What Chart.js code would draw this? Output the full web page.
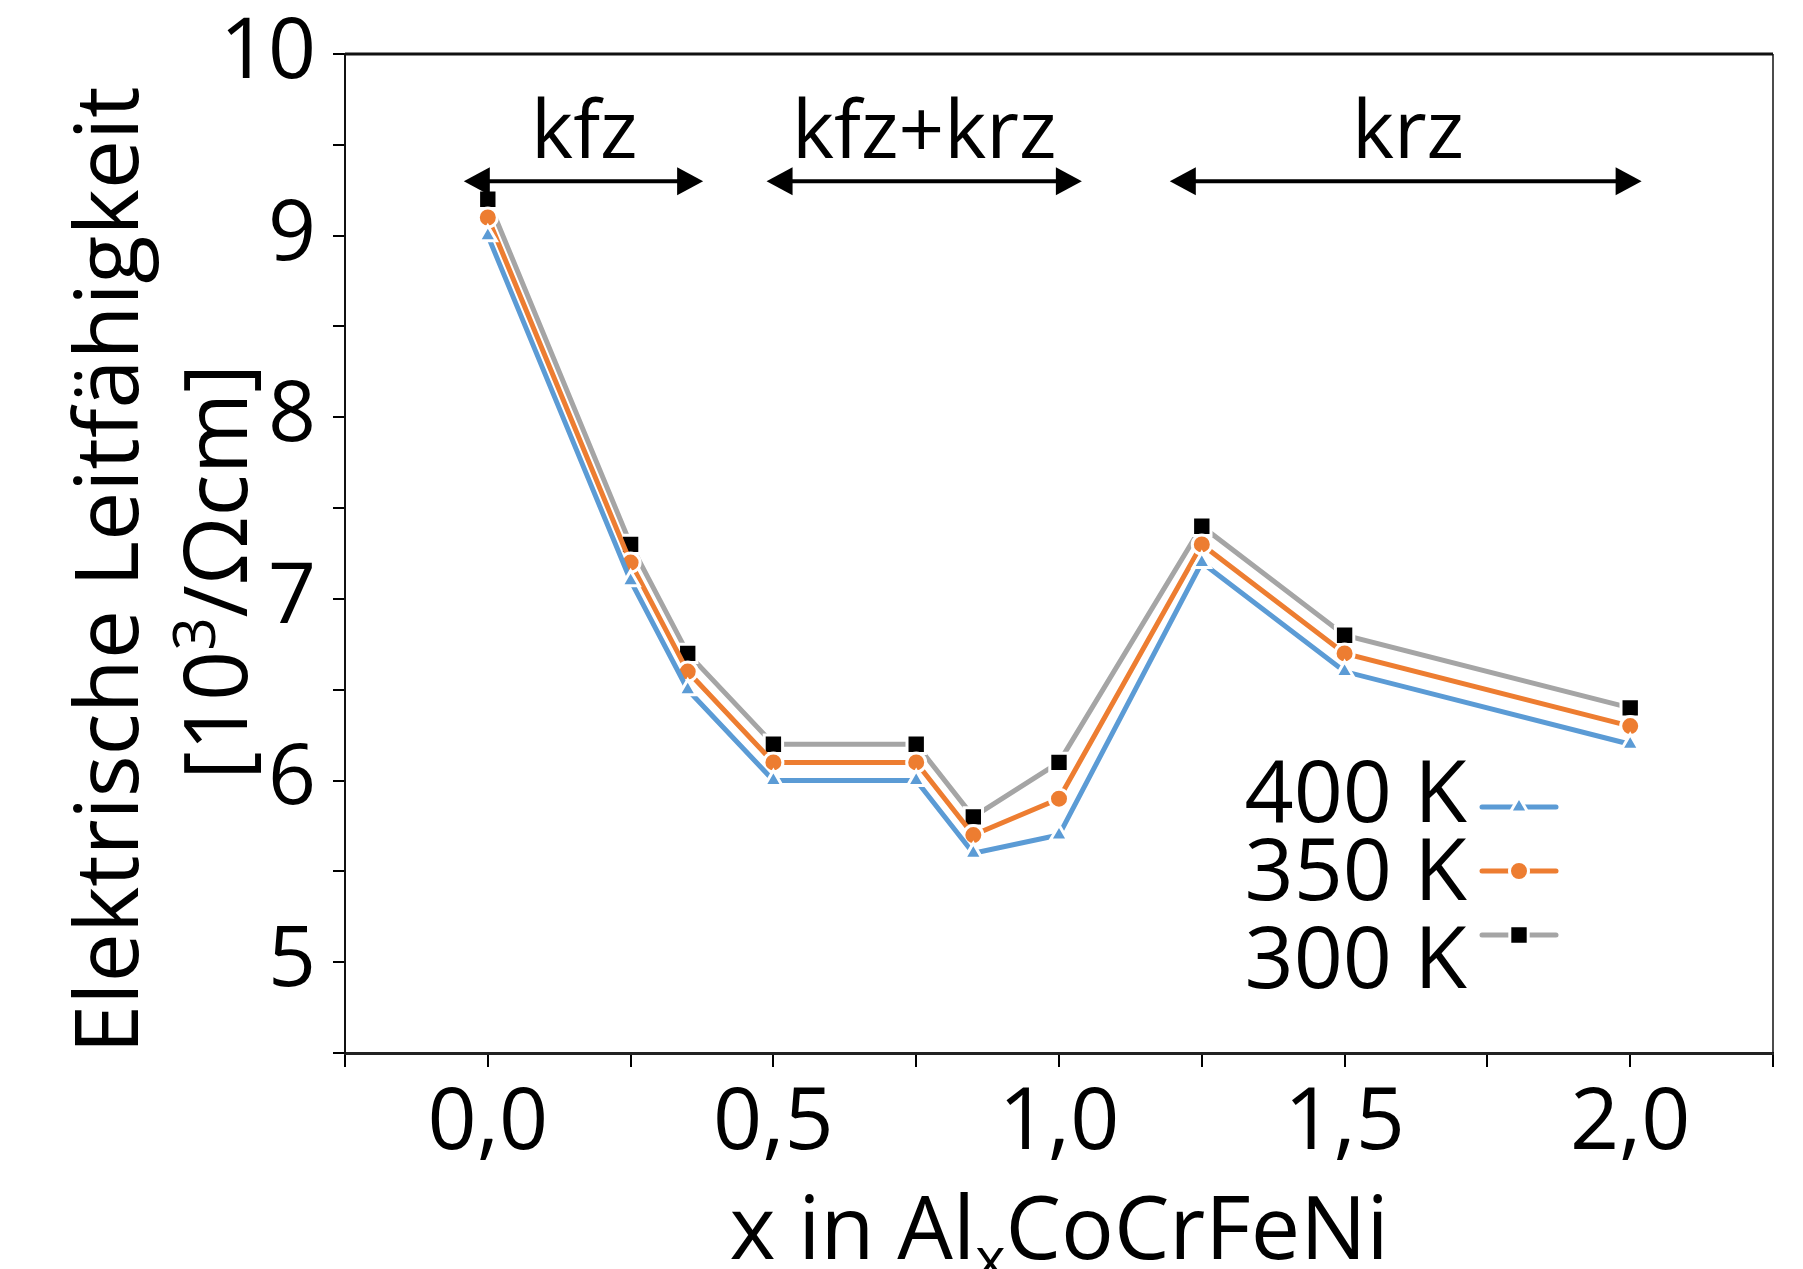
<!DOCTYPE html>
<html>
<head>
<meta charset="utf-8">
<script src="https://cdn.jsdelivr.net/npm/chart.js@4"></script>
<style>
html, body { margin: 0; padding: 0; background: #fff; }
</style>
</head>
<body>
<canvas id="grafico" width="1803" height="1269"></canvas>
<script>
// Werte
const xWerte = [0, 0.25, 0.35, 0.5, 0.75, 0.85, 1.0, 1.25, 1.5, 2.0];
const werte400 = [9.0, 7.1, 6.5, 6.0, 6.0, 5.6, 5.7, 7.2, 6.6, 6.2];
const werte350 = [9.1, 7.2, 6.6, 6.1, 6.1, 5.7, 5.9, 7.3, 6.7, 6.3];
const werte300 = [9.2, 7.3, 6.7, 6.2, 6.2, 5.8, 6.1, 7.4, 6.8, 6.4];
const serien = ["400 K", "350 K", "300 K"];
const yLabels = [5, 6, 7, 8, 9, 10];
const xLabels = [0, 0.5, 1.0, 1.5, 2.0];

// Phasenbereiche (kfz, kfz+krz, krz)
const phasen = ["kfz", "kfz+krz", "krz"];
const phasenVon = [-0.042, 0.488, 1.194];
const phasenBis = [0.377, 1.040, 2.020];
const phasenMitte = [0.169, 0.764, 1.611];
const pfeilY = 9.3;
const textY = 9.43;

const SCHRIFT = "'Open Sans', 'Noto Sans', sans-serif";

function punkte(werte) {
    return xWerte.map((x, i) => ({ x: x, y: werte[i] }));
}

const rahmen = {
    id: "rahmen",
    afterDraw(chart) {
        const { ctx, chartArea: a } = chart;
        ctx.save();
        ctx.strokeStyle = "#111";
        ctx.lineWidth = 3;
        ctx.beginPath();
        ctx.moveTo(a.left, a.top);
        ctx.lineTo(a.right, a.top);
        ctx.stroke();
        ctx.lineWidth = 1.5;
        ctx.beginPath();
        ctx.moveTo(a.right, a.top);
        ctx.lineTo(a.right, a.bottom);
        ctx.stroke();
        ctx.restore();
    }
};

function pfeil(ctx, x1, x2, y) {
    const l = 26, h = 14;
    ctx.lineWidth = 4;
    ctx.beginPath();
    ctx.moveTo(x1 + l - 4, y);
    ctx.lineTo(x2 - l + 4, y);
    ctx.stroke();
    ctx.beginPath();
    ctx.moveTo(x1, y);
    ctx.lineTo(x1 + l, y - h);
    ctx.lineTo(x1 + l, y + h);
    ctx.closePath();
    ctx.fill();
    ctx.beginPath();
    ctx.moveTo(x2, y);
    ctx.lineTo(x2 - l, y - h);
    ctx.lineTo(x2 - l, y + h);
    ctx.closePath();
    ctx.fill();
}

const beschriftung = {
    id: "beschriftung",
    afterDraw(chart) {
        const { ctx, scales } = chart;
        const sx = scales.x, sy = scales.y;
        ctx.save();
        ctx.fillStyle = "#000";
        ctx.strokeStyle = "#000";

        // Phasen
        ctx.font = "80px " + SCHRIFT;
        ctx.textAlign = "center";
        ctx.textBaseline = "alphabetic";
        phasen.forEach((p, i) => {
            ctx.fillText(p, sx.getPixelForValue(phasenMitte[i]), sy.getPixelForValue(textY));
            pfeil(ctx, sx.getPixelForValue(phasenVon[i]), sx.getPixelForValue(phasenBis[i]), sy.getPixelForValue(pfeilY));
        });

        // Legende
        const ds = chart.data.datasets;
        const textZeilen = [822, 900, 988];
        const linienZeilen = [807, 871, 935];
        ds.forEach((d, i) => {
            ctx.font = "86px " + SCHRIFT;
            ctx.textAlign = "right";
            ctx.fillStyle = "#000";
            ctx.fillText(d.label, 1467, textZeilen[i]);
            ctx.strokeStyle = d.borderColor;
            ctx.lineWidth = 5;
            ctx.lineCap = "round";
            ctx.beginPath();
            ctx.moveTo(1482, linienZeilen[i]);
            ctx.lineTo(1556, linienZeilen[i]);
            ctx.stroke();
            ctx.fillStyle = d.pointBackgroundColor;
            ctx.strokeStyle = "#fff";
            ctx.lineWidth = 3;
            Chart.helpers.drawPoint(ctx, {
                pointStyle: d.pointStyle,
                radius: d.pointRadius,
                rotation: 0,
                borderWidth: 3
            }, 1519, linienZeilen[i]);
        });

        // y-Achsentitel
        ctx.fillStyle = "#000";
        ctx.textAlign = "center";
        ctx.font = "88px " + SCHRIFT;
        ctx.save();
        ctx.translate(138, 570);
        ctx.rotate(-Math.PI / 2);
        ctx.fillText("Elektrische Leitfähigkeit", 0, 0);
        ctx.restore();

        ctx.save();
        ctx.translate(247, 572);
        ctx.rotate(-Math.PI / 2);
        const t1 = "[10", t2 = "3", t3 = "/Ωcm]";
        ctx.font = "88px " + SCHRIFT;
        const w1 = ctx.measureText(t1).width, w3 = ctx.measureText(t3).width;
        ctx.font = "58px " + SCHRIFT;
        const w2 = ctx.measureText(t2).width;
        let x0 = -(w1 + w2 + w3) / 2;
        ctx.textAlign = "left";
        ctx.font = "88px " + SCHRIFT;
        ctx.fillText(t1, x0, 0);
        ctx.font = "58px " + SCHRIFT;
        ctx.fillText(t2, x0 + w1, -32);
        ctx.font = "88px " + SCHRIFT;
        ctx.fillText(t3, x0 + w1 + w2, 0);
        ctx.restore();

        // x-Achsentitel
        const a1 = "x in Al", a2 = "x", a3 = "CoCrFeNi";
        ctx.font = "88px " + SCHRIFT;
        const b1 = ctx.measureText(a1).width, b3 = ctx.measureText(a3).width;
        ctx.font = "58px " + SCHRIFT;
        const b2 = ctx.measureText(a2).width;
        const mitte = (chart.chartArea.left + chart.chartArea.right) / 2;
        let xs = mitte - (b1 + b2 + b3) / 2;
        const grund = 1259;
        ctx.textAlign = "left";
        ctx.font = "88px " + SCHRIFT;
        ctx.fillText(a1, xs, grund);
        ctx.font = "58px " + SCHRIFT;
        ctx.fillText(a2, xs + b1, grund + 20);
        ctx.font = "88px " + SCHRIFT;
        ctx.fillText(a3, xs + b1 + b2, grund);

        ctx.restore();
    }
};

const istNah = (v, liste) => liste.some(l => Math.abs(l - v) < 1e-6);

new Chart(document.getElementById("grafico"), {
    type: "line",
    data: {
        datasets: [
            {
                label: serien[0],
                data: punkte(werte400),
                borderColor: "#5B9BD5",
                pointBackgroundColor: "#5B9BD5",
                pointStyle: "triangle",
                pointRadius: 10
            },
            {
                label: serien[1],
                data: punkte(werte350),
                borderColor: "#ED7D31",
                pointBackgroundColor: "#ED7D31",
                pointStyle: "circle",
                pointRadius: 9.5
            },
            {
                label: serien[2],
                data: punkte(werte300),
                borderColor: "#A5A5A5",
                pointBackgroundColor: "#000000",
                pointStyle: "rect",
                pointRadius: 13
            }
        ].map(d => Object.assign(d, {
            borderWidth: 5,
            tension: 0,
            pointBorderColor: "#ffffff",
            pointBorderWidth: 3,
            fill: false
        }))
    },
    options: {
        responsive: false,
        animation: false,
        layout: { padding: { top: 54, right: 30, left: 0, bottom: 0 } },
        plugins: {
            legend: { display: false },
            tooltip: { enabled: false }
        },
        scales: {
            x: {
                type: "linear",
                min: -0.25,
                max: 2.25,
                afterFit(s) { s.height = 216; s.paddingLeft = 0; s.paddingRight = 0; },
                ticks: {
                    stepSize: 0.25,
                    autoSkip: false,
                    maxRotation: 0,
                    padding: 6,
                    color: "#000",
                    font: { family: SCHRIFT, size: 86 },
                    callback: v => istNah(v, xLabels) ? v.toFixed(1).replace(".", ",") : ""
                },
                grid: {
                    drawOnChartArea: false,
                    drawTicks: true,
                    tickLength: 14,
                    color: "#000",
                    lineWidth: 2
                },
                border: { color: "#222", width: 3 }
            },
            y: {
                min: 4.5,
                max: 10,
                afterFit(s) { s.width = 345; s.paddingTop = 0; s.paddingBottom = 0; },
                ticks: {
                    stepSize: 0.5,
                    autoSkip: false,
                    padding: 17,
                    color: "#000",
                    font: { family: SCHRIFT, size: 84 },
                    callback: v => istNah(v, yLabels) ? String(v) : ""
                },
                grid: {
                    drawOnChartArea: false,
                    drawTicks: true,
                    tickLength: 12,
                    color: "#000",
                    lineWidth: 2
                },
                border: { color: "#111", width: 2 }
            }
        }
    },
    plugins: [rahmen, beschriftung]
});
</script>
</body>
</html>
